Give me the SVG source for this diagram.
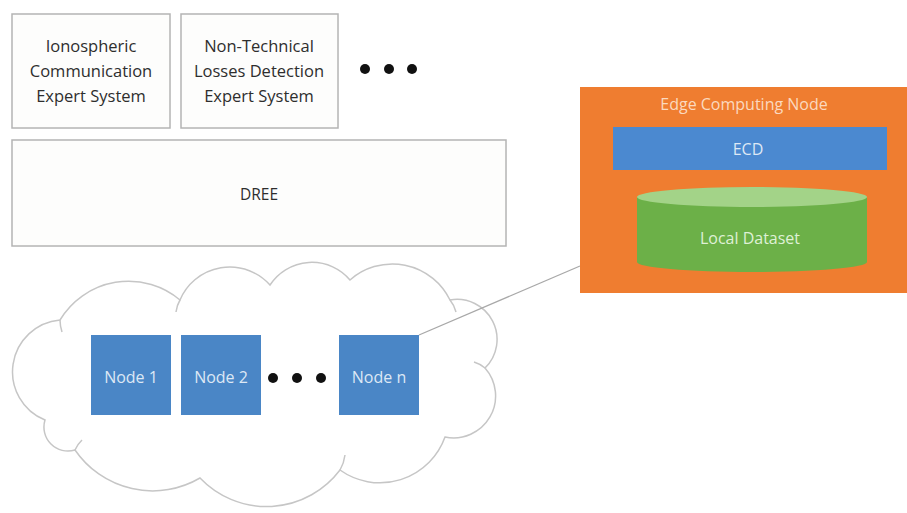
<svg xmlns="http://www.w3.org/2000/svg" width="907" height="513" viewBox="0 0 907 513">
<style>
.box{fill:#fdfdfc;stroke:#b4b4b4;stroke-width:1.5}
.t{font-family:"Open Sans",Lato,"Liberation Sans",sans-serif;font-size:16.5px;fill:#2e2e2e;text-anchor:middle}
.wt{font-family:"Open Sans",Lato,"Liberation Sans",sans-serif;font-size:16px;fill:#dde8f5;text-anchor:middle}
.node{fill:#4a86c6}
.dot{fill:#111}
</style>
<rect width="907" height="513" fill="#ffffff"/>
<g id="expert1">
<rect class="box" x="12" y="14" width="158" height="114"/>
<text class="t" x="91" y="52">Ionospheric</text>
<text class="t" x="91" y="77">Communication</text>
<text class="t" x="91" y="102">Expert System</text>
</g>
<g id="expert2">
<rect class="box" x="181" y="14" width="157" height="114"/>
<text class="t" x="259" y="52">Non-Technical</text>
<text class="t" x="259" y="77">Losses Detection</text>
<text class="t" x="259" y="102">Expert System</text>
</g>
<g id="dots-top">
<circle class="dot" cx="365" cy="69" r="5"/>
<circle class="dot" cx="389" cy="69" r="5"/>
<circle class="dot" cx="412" cy="69" r="5"/>
</g>
<g id="dree">
<rect class="box" x="12" y="140" width="494" height="106"/>
<text class="t" x="259" y="200" style="font-size:15.5px">DREE</text>
</g>
<g id="cloud">
<path d="M45,420 A52,52 0 0 1 60,320 A80,80 0 0 1 180,300 A54,54 0 0 1 270,285 A50,50 0 0 1 350,280 A64,64 0 0 1 450,300 A40,40 0 0 1 485,368 A42,42 0 0 1 445,437 A69,69 0 0 1 340,470 A92,92 0 0 1 200,478 A94,94 0 0 1 75,450 A24,24 0 0 1 45,420 Z" fill="#ffffff" stroke="#c6c6c6" stroke-width="1.5"/>
<path d="M60,320 A40,40 0 0 0 62,332 M180,300 A30,30 0 0 0 176,312 M450,300 A30,30 0 0 1 456,312 M485,368 A30,30 0 0 0 474,362 M340,470 A40,40 0 0 0 345,455 M75,450 A30,30 0 0 1 82,440" fill="none" stroke="#c6c6c6" stroke-width="1.5"/>
</g>
<g id="node1">
<rect class="node" x="91" y="335" width="80" height="80"/>
<text class="wt" x="131" y="383">Node 1</text>
</g>
<g id="node2">
<rect class="node" x="181" y="335" width="80" height="80"/>
<text class="wt" x="221" y="383">Node 2</text>
</g>
<g id="dots-nodes">
<circle class="dot" cx="273" cy="378" r="5"/>
<circle class="dot" cx="297" cy="378" r="5"/>
<circle class="dot" cx="321" cy="378" r="5"/>
</g>
<g id="noden">
<rect class="node" x="339" y="335" width="80" height="80"/>
<text class="wt" x="379" y="383">Node n</text>
</g>
<g id="connectors">
<line x1="419" y1="335" x2="580" y2="266" stroke="#a8a8a8" stroke-width="1.3"/>
</g>
<g id="edge-node">
<rect x="580" y="87" width="327" height="206" fill="#ef7d30"/>
<text x="744" y="110" style="font-family:'Open Sans',Lato,'Liberation Sans',sans-serif;font-size:16px;fill:#fbd9bf;text-anchor:middle">Edge Computing Node</text>
</g>
<g id="ecd">
<rect x="613" y="127" width="274" height="43" fill="#4b89d0"/>
<text class="wt" x="748" y="155">ECD</text>
</g>
<g id="local-dataset">
<path d="M637,197 L637,262 A115,10 0 0 0 867,262 L867,197 Z" fill="#6cb048"/>
<ellipse cx="752" cy="197" rx="115" ry="10" fill="#a3d388"/>
<text x="750" y="244" style="font-family:'Open Sans',Lato,'Liberation Sans',sans-serif;font-size:16px;fill:#dff0d6;text-anchor:middle">Local Dataset</text>
</g>
</svg>
